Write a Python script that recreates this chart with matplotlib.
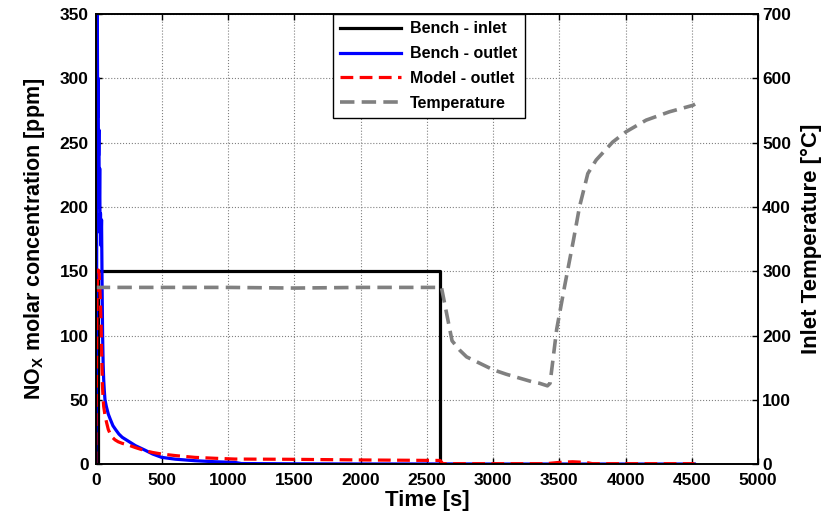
import matplotlib
matplotlib.use("Agg")
import matplotlib.pyplot as plt

plt.rcParams['font.family'] = ['Liberation Sans', 'DejaVu Sans']
plt.rcParams['font.weight'] = 'bold'
plt.rcParams['mathtext.fontset'] = 'custom'
plt.rcParams['mathtext.rm'] = 'Liberation Sans:bold'
plt.rcParams['mathtext.bf'] = 'Liberation Sans:bold'
plt.rcParams['mathtext.it'] = 'Liberation Sans:bold'

# ---- data ----
inlet_t = [0, 18, 18, 2600, 2600, 4520]
inlet_c = [0, 0, 150, 150, 0, 0]

outlet_t = [0, 4, 7, 9, 11, 13, 15, 18, 21, 24, 27, 30, 33, 36, 40, 44, 48, 52, 56, 60, 65, 70,
            80, 95, 110, 130, 150, 175, 200, 246, 300, 372, 430, 498, 600, 749, 900, 1050, 1100,
            1500, 2000, 2600, 3000, 3500, 4000, 4520]
outlet_c = [0, 40, 150, 360, 400, 320, 270, 300, 240, 260, 200, 230, 180, 195, 170, 190, 140, 100, 78, 66, 57, 50,
            45, 39, 35, 30, 27, 23.5, 21, 18, 14.5, 11, 8, 5.4, 4, 2.8, 2, 1.5, 0.6,
            0.4, 0.3, 0.3, 0.2, 0.2, 0.2, 0.2]

model_t = [0, 5, 10, 15, 20, 25, 30, 35, 40, 45, 50, 55, 60, 70, 83, 95, 110, 125, 146, 170, 200,
           246, 300, 372, 430, 498, 600, 749, 900, 1050, 1478, 2000, 2600, 2620, 3400, 3500, 3600,
           3700, 3750, 4000, 4520]
model_c = [0, 60, 130, 150, 151, 148, 140, 128, 110, 85, 63, 52, 45, 38, 32, 27, 23.5, 21, 19, 17.5, 16.3,
           15, 13, 10.6, 9.2, 8, 6.8, 5.4, 4.7, 4.1, 3.9, 3.4, 3, 0.5, 0.5, 1.5, 2,
           1.5, 0.5, 0.5, 0.5]

temp_t = [0, 500, 1000, 1500, 2000, 2500, 2610, 2690, 2750, 2800, 2900, 3000, 3100, 3200, 3300,
          3350, 3410, 3430, 3480, 3539, 3607, 3652, 3715, 3778, 3903, 4004, 4155, 4331, 4507, 4525]
temp_T = [275, 275, 275, 274, 275, 275, 275, 192, 177, 167, 157, 147, 140, 134, 128,
          126, 122, 126, 210, 276, 349, 400, 452, 473, 501, 517, 535, 548, 558, 560]

xticks = list(range(0, 5001, 500))
yticks_left = list(range(0, 351, 50))
yticks_right = list(range(0, 701, 100))

# ---- figure ----
fig = plt.figure(figsize=(8.21, 5.17), dpi=100)
ax = fig.add_axes([0.1166, 0.1019, 0.8067, 0.871])
ax2 = ax.twinx()

l1, = ax.plot(inlet_t, inlet_c, color='black', lw=2.3, label='Bench - inlet')
l2, = ax.plot(outlet_t, outlet_c, color='#0000ff', lw=2.3, label='Bench - outlet')
l3, = ax.plot(model_t, model_c, color='#ff0000', lw=2.3, ls=(0, (4, 2)), label='Model - outlet')
l4, = ax2.plot(temp_t, temp_T, color='#808080', lw=2.6, ls=(0, (4, 2)), label='Temperature')

ax.set_xlim(0, 5000)
ax.set_ylim(0, 350)
ax2.set_ylim(0, 700)
ax.set_xticks(xticks)
ax.set_yticks(yticks_left)
ax2.set_yticks(yticks_right)

ax.grid(True, color='#808080', ls=':', lw=0.8)
ax.tick_params(axis='x', direction='in', length=4, labelsize=12.5, top=True, width=1, pad=6)
ax.tick_params(axis='y', direction='in', length=4, labelsize=12.5, width=1, pad=5)
ax2.tick_params(direction='in', length=4, labelsize=12.5, width=1, pad=3)
for lab in ax.get_xticklabels() + ax.get_yticklabels() + ax2.get_yticklabels():
    lab.set_fontweight('bold')
for a in (ax, ax2):
    for s in a.spines.values():
        s.set_linewidth(1.2)

ax.set_xlabel('Time [s]', fontsize=16, fontweight='bold', labelpad=2)
ax.set_ylabel(r'NO$_{\mathbf{X}}$ molar concentration [ppm]', fontsize=15.5, fontweight='bold', labelpad=9)
ax2.set_ylabel('Inlet Temperature [°C]', fontsize=16, fontweight='bold', labelpad=7)

leg = ax2.legend(handles=[l1, l2, l3, l4], loc='upper left', bbox_to_anchor=(0.358, 1.0),
                 fancybox=False, framealpha=1, edgecolor='black',
                 prop={'weight': 'bold', 'size': 11.5}, handlelength=3.8, borderaxespad=0,
                 labelspacing=0.62, handletextpad=0.6, borderpad=0.45)
leg.get_frame().set_linewidth(1.0)

fig.savefig('out.png', dpi=100)
